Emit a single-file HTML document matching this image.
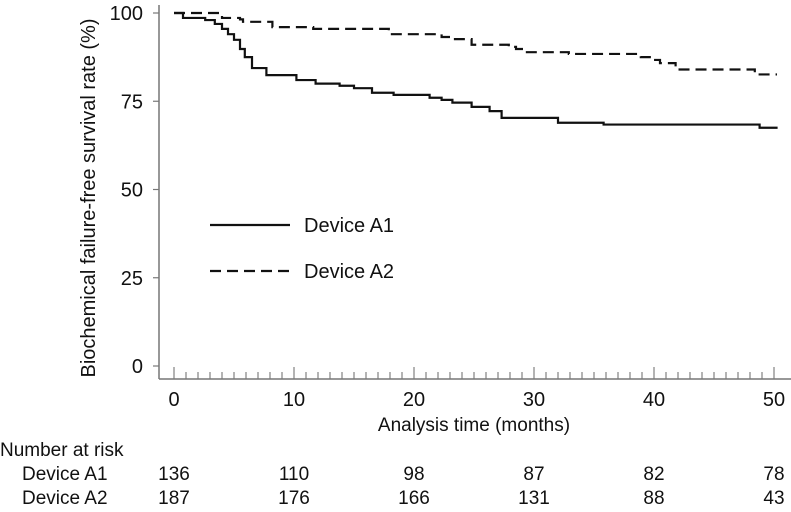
<!DOCTYPE html>
<html><head><meta charset="utf-8"><style>
body{margin:0;background:#fff}
svg{display:block;font-family:"Liberation Sans",Arial,sans-serif}
</style></head><body>
<svg id="chart" width="791" height="512" viewBox="0 0 791 512">
<g id="axes"></g>
<g id="series"></g>
<g>
  <line x1="210" y1="225" x2="290" y2="225" stroke="#111" stroke-width="2.2"/>
  <text x="304" y="232" font-size="20" fill="#111">Device A1</text>
  <line x1="210" y1="271" x2="290" y2="271" stroke="#111" stroke-width="2.2" stroke-dasharray="11,6"/>
  <text x="304" y="278" font-size="20" fill="#111">Device A2</text>
</g>
<text transform="translate(95,198) rotate(-90)" text-anchor="middle" font-size="20" fill="#111">Biochemical failure-free survival rate (%)</text>
<text x="474" y="431" text-anchor="middle" font-size="19" fill="#111">Analysis time (months)</text>
<text x="0" y="456" font-size="19" fill="#111">Number at risk</text>
<text x="22" y="480" font-size="19" fill="#111">Device A1</text>
<text x="22" y="504" font-size="19" fill="#111">Device A2</text>
<g id="risk"></g>
</svg>
<script>
const xTicks=[0,10,20,30,40,50];
const yTicks=[0,25,50,75,100];
const a1Times=[0,0.75,2.6,3.4,4,4.5,5,5.5,5.9,6.5,7.7,10.2,11.8,13.8,15,16.5,18.3,21.3,22.3,23.2,24.8,26.3,27.3,32,35.8,48.8,50.3];
const a1Surv=[100,98.6,98,96.9,95.5,94,92.4,89.8,87.5,84.4,82.4,81,80,79.4,78.7,77.4,76.8,76,75.4,74.6,73.4,72.2,70.3,68.9,68.4,67.5,67.5];
const a2Times=[0,4,5.5,5.75,8.2,11.6,17.9,22.3,23,24.8,27.9,28.5,29.2,32.9,38.9,40,40.5,41.8,48.4,50.25];
const a2Surv=[100,98.6,98.2,97.5,96,95.5,94,93.2,92.6,91,90.4,89.8,88.9,88.4,87.5,86.7,85.8,84,82.6,82.6];
const riskA1=[136,110,98,87,82,78];
const riskA2=[187,176,166,131,88,43];
const X=t=>174+12*t;
const Y=v=>366-3.53*v;
const NS='http://www.w3.org/2000/svg';
function mk(tag,attrs,parent){const e=document.createElementNS(NS,tag);for(const k in attrs)e.setAttribute(k,attrs[k]);parent.appendChild(e);return e;}
const ax=document.getElementById('axes');
let l=mk('line',{x1:159,y1:5,x2:159,y2:379,stroke:'#777','stroke-width':1.5},ax);


l=mk('line',{x1:159,y1:379,x2:791,y2:379,stroke:'#777','stroke-width':1.5},ax);


yTicks.forEach(v=>{
  const t=mk('line',{x1:153,y1:Y(v),x2:159,y2:Y(v),stroke:'#777','stroke-width':1.2},ax);
  
  
  const tx=mk('text',{x:143,y:Y(v)+7,'text-anchor':'end','font-size':20,fill:'#111'},ax);
  tx.textContent=v;
  
  
});
for(let m=0;m<=50;m++){
  const major=m%10===0;
  const t=mk('line',{x1:X(m),y1:379,x2:X(m),y2:major?367:372,stroke:'#777','stroke-width':1.1},ax);
  
  
}
xTicks.forEach(m=>{
  const tx=mk('text',{x:X(m),y:406,'text-anchor':'middle','font-size':20,fill:'#111'},ax);
  tx.textContent=m;
  
  
});
function stepPath(ts,vs){let d='M'+X(ts[0])+','+Y(vs[0]);for(let i=1;i<ts.length;i++){d+=' H'+X(ts[i])+' V'+Y(vs[i]);}return d;}
const sg=document.getElementById('series');
let p=mk('path',{d:stepPath(a1Times,a1Surv),fill:'none',stroke:'#111','stroke-width':2.2},sg);


p=mk('path',{d:stepPath(a2Times,a2Surv),fill:'none',stroke:'#111','stroke-width':2.2,'stroke-dasharray':'11,6'},sg);


const rg=document.getElementById('risk');
xTicks.forEach((m,i)=>{
  let t=mk('text',{x:X(m),y:480,'text-anchor':'middle','font-size':19,fill:'#111'},rg);
  t.textContent=riskA1[i];
  
  
  t=mk('text',{x:X(m),y:504,'text-anchor':'middle','font-size':19,fill:'#111'},rg);
  t.textContent=riskA2[i];
  
  
});
</script>
</body></html>
